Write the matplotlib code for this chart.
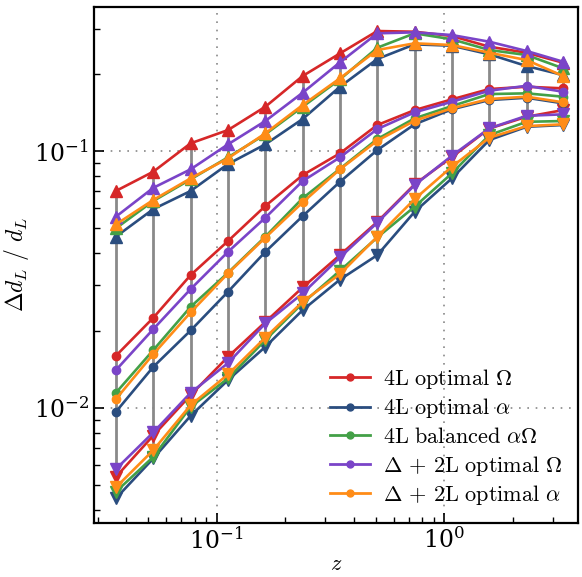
import matplotlib
matplotlib.use("Agg")
import matplotlib.pyplot as plt
import numpy as np
from matplotlib.lines import Line2D

plt.rcParams['mathtext.fontset'] = 'cm'
plt.rcParams['font.family'] = ['DejaVu Serif']

z = [0.0361, 0.0527, 0.0769, 0.1122, 0.1637, 0.2388, 0.3483, 0.5082, 0.7413, 1.081, 1.578, 2.301, 3.33]

labels = [r"$\mathrm{4L\ optimal}\ \Omega$",
          r"$\mathrm{4L\ optimal}\ \alpha$",
          r"$\mathrm{4L\ balanced}\ \alpha\Omega$",
          r"$\Delta\,+\,\mathrm{2L\ optimal}\ \Omega$",
          r"$\Delta\,+\,\mathrm{2L\ optimal}\ \alpha$"]
colors = ['#d62728', '#2a4d7f', '#43a047', '#7a44c8', '#ff8c17']

# upper group (triangle up)
upper = [
    [0.0699, 0.0831, 0.1072, 0.1207, 0.1488, 0.196, 0.240, 0.2934, 0.2916, 0.2805, 0.2549, 0.2415, 0.2208],
    [0.0464, 0.0594, 0.0699, 0.089, 0.1062, 0.1333, 0.178, 0.2283, 0.2604, 0.2572, 0.2381, 0.2143, 0.1977],
    [0.050, 0.0639, 0.0776, 0.0945, 0.1162, 0.1488, 0.1902, 0.2526, 0.2874, 0.2724, 0.2475, 0.2366, 0.210],
    [0.0555, 0.0719, 0.0849, 0.1062, 0.1309, 0.1687, 0.2216, 0.2874, 0.290, 0.283, 0.2666, 0.2453, 0.2228],
    [0.0518, 0.0645, 0.0783, 0.0937, 0.1172, 0.1511, 0.192, 0.2475, 0.2628, 0.2588, 0.2415, 0.2262, 0.196],
]
# middle group (circle)
middle = [
    [0.01594, 0.02242, 0.03288, 0.0446, 0.0611, 0.0806, 0.098, 0.1263, 0.1444, 0.159, 0.1744, 0.178, 0.1755],
    [0.00965, 0.01444, 0.02001, 0.02831, 0.0405, 0.0558, 0.0759, 0.1009, 0.1271, 0.1454, 0.158, 0.1613, 0.1534],
    [0.01144, 0.01678, 0.02474, 0.03357, 0.0464, 0.0655, 0.0853, 0.1114, 0.1341, 0.1497, 0.1667, 0.1678, 0.1628],
    [0.01402, 0.02025, 0.0290, 0.0405, 0.055, 0.0764, 0.0945, 0.1218, 0.1415, 0.1556, 0.1718, 0.1796, 0.1702],
    [0.01081, 0.01618, 0.02353, 0.03339, 0.0460, 0.0631, 0.0849, 0.1097, 0.1312, 0.1467, 0.1595, 0.1628, 0.1548],
]
# lower group (triangle down)
lower = [
    [0.00538, 0.0078, 0.01121, 0.0158, 0.02158, 0.02944, 0.03934, 0.0530, 0.0742, 0.0948, 0.1224, 0.136, 0.1444],
    [0.00444, 0.00635, 0.00931, 0.01282, 0.01728, 0.02402, 0.03158, 0.03934, 0.058, 0.0783, 0.1104, 0.1243, 0.1263],
    [0.00471, 0.00644, 0.01009, 0.01301, 0.01835, 0.02557, 0.03418, 0.0461, 0.0607, 0.0819, 0.1154, 0.130, 0.1309],
    [0.00577, 0.00802, 0.01144, 0.01493, 0.02132, 0.0279, 0.03853, 0.0526, 0.0737, 0.0959, 0.1226, 0.1372, 0.139],
    [0.0049, 0.00684, 0.01024, 0.01349, 0.01877, 0.02588, 0.03318, 0.0464, 0.065, 0.0869, 0.1127, 0.1251, 0.1271],
]

fig = plt.figure(figsize=(5.82, 5.77), dpi=100)
ax = fig.add_axes([0.1607, 0.0941, 0.8324, 0.8938])
ax.set_xscale('log')
ax.set_yscale('log')

allv = np.array(upper + middle + lower)
ax.vlines(z, allv.min(axis=0), allv.max(axis=0), color='#8a8a8a', lw=2.0, zorder=1)

for i in range(5):
    ax.plot(z, upper[i], color=colors[i], marker='^', ms=8, lw=1.9, zorder=3)
    ax.plot(z, middle[i], color=colors[i], marker='o', ms=6, lw=1.9, zorder=3)
    ax.plot(z, lower[i], color=colors[i], marker='v', ms=8, lw=1.9, zorder=3)

ax.set_xlim(0.0288, 3.87)
ax.set_ylim(0.00357, 0.364)

ax.grid(True, which='major', linestyle=(0, (1, 4)), color='#888888', lw=1.2)
ax.tick_params(which='both', direction='in', labelsize=17)
ax.tick_params(which='major', length=7, width=1.2)
ax.tick_params(which='minor', length=4, width=1.0)
for s in ax.spines.values():
    s.set_linewidth(1.6)

ax.set_xlabel(r"$z$", fontsize=16, labelpad=-1)
ax.set_ylabel(r"$\Delta d_L\ /\ d_L$", fontsize=17, labelpad=2)

handles = [Line2D([0], [0], color=c, marker='o', ms=5, lw=2) for c in colors]
ax.legend(handles, labels, loc='lower right', frameon=False, fontsize=16,
          handlelength=1.8, handletextpad=0.6, labelspacing=0.25, borderaxespad=0.3)

fig.savefig('out.png', dpi=100)
